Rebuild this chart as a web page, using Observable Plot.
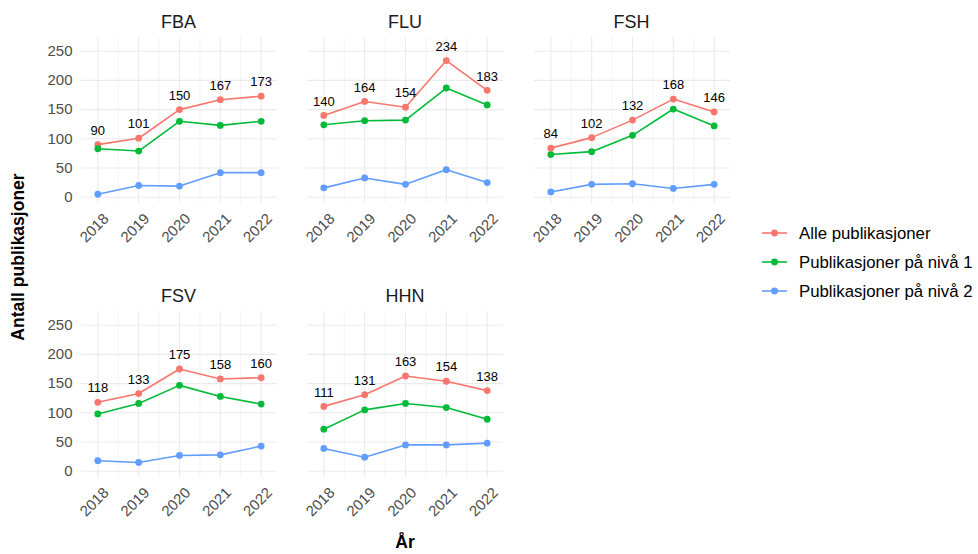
<!DOCTYPE html>
<html>
<head>
<meta charset="utf-8">
<script src="https://cdn.jsdelivr.net/npm/d3@7"></script>
<script src="https://cdn.jsdelivr.net/npm/@observablehq/plot@0.6"></script>
<style>
  html, body { margin: 0; padding: 0; background: #fff; }
  #root { position: relative; width: 978px; height: 554px; overflow: hidden; font-family: "Liberation Sans", Arial, Helvetica, sans-serif; }
  #root > div.panel { position: absolute; }
  #overlay { position: absolute; left: 0; top: 0; }
</style>
</head>
<body>
<div id="root"></div>
<script>
// ---- data ----
const units = ["FBA", "FLU", "FSH", "FSV", "HHN"];
const years = [2018, 2019, 2020, 2021, 2022];
const seriesNames = ["Alle publikasjoner", "Publikasjoner på nivå 1", "Publikasjoner på nivå 2"];
const seriesColors = ["#F8766D", "#00BA38", "#619CFF"];
// one row per unit (FBA, FLU, FSH, FSV, HHN), one value per year
const alle = [
  [90, 101, 150, 167, 173],
  [140, 164, 154, 234, 183],
  [84, 102, 132, 168, 146],
  [118, 133, 175, 158, 160],
  [111, 131, 163, 154, 138]
];
const niva1 = [
  [83, 79, 130, 123, 130],
  [124, 131, 132, 187, 158],
  [73, 78, 106, 151, 122],
  [98, 116, 147, 128, 115],
  [72, 105, 116, 109, 89]
];
const niva2 = [
  [5, 20, 19, 42, 42],
  [16, 33, 22, 47, 25],
  [9, 22, 23, 15, 22],
  [18, 15, 27, 28, 43],
  [39, 24, 45, 45, 48]
];
const yTicks = [0, 50, 100, 150, 200, 250];
const xLabel = "År";
const yLabel = "Antall publikasjoner";

// ---- layout ----
const root = document.getElementById("root");
const FONT = "'Liberation Sans', Arial, Helvetica, sans-serif";
const mL = 45, mR = 5, mT = 5, mB = 50;
const frameW = 196, frameH = 166;
const colX = [80.5, 307, 533.5];
const rowY = [37, 311];
const minorX = [2018.5, 2019.5, 2020.5, 2021.5];

const allSeries = [alle, niva1, niva2];

units.forEach((unit, ui) => {
  const col = ui % 3, row = Math.floor(ui / 3);
  const rows = [];
  allSeries.forEach((arr, si) => {
    years.forEach((yr, yi) => rows.push({year: yr, value: arr[ui][yi], series: seriesNames[si]}));
  });
  const labelRows = rows.filter(d => d.series === seriesNames[0]);
  const leftCol = col === 0;
  const marks = [
    Plot.gridX(minorX, {stroke: "#ebebeb", strokeOpacity: 1, strokeWidth: 0.6}),
    Plot.gridX(years, {stroke: "#ebebeb", strokeOpacity: 1, strokeWidth: 1.1}),
    Plot.gridY(yTicks, {stroke: "#ebebeb", strokeOpacity: 1, strokeWidth: 1.1}),
    Plot.line(rows, {x: "year", y: "value", z: "series", stroke: "series", strokeWidth: 1.6}),
    Plot.dot(rows, {x: "year", y: "value", fill: "series", r: 3.4}),
    Plot.text(labelRows, {x: "year", y: "value", text: d => String(d.value), dy: -14, fontSize: 13, fill: "#000"}),
    Plot.text(years, {x: d => d, text: d => String(d), frameAnchor: "bottom", rotate: -45, dy: 28, textAnchor: "middle", fontSize: 15, fill: "#4d4d4d"})
  ];
  if (leftCol) {
    marks.push(Plot.axisY(yTicks, {tickSize: 0, tickPadding: 9, fontSize: 15, fill: "#4d4d4d", label: null}));
  }
  const chart = Plot.plot({
    width: mL + frameW + mR,
    height: mT + frameH + mB,
    marginLeft: mL, marginRight: mR, marginTop: mT, marginBottom: mB,
    style: {fontFamily: FONT, background: "transparent", overflow: "visible"},
    x: {type: "linear", domain: [2017.6, 2022.4], axis: null},
    y: {domain: [-10.8, 273.5], axis: leftCol ? undefined : null, label: null},
    color: {domain: seriesNames, range: seriesColors},
    marks
  });
  const wrap = document.createElement("div");
  wrap.className = "panel";
  wrap.style.left = (colX[col] - mL) + "px";
  wrap.style.top = (rowY[row] - mT) + "px";
  wrap.appendChild(chart);
  root.appendChild(wrap);
});

// ---- overlay text: strip titles, axis titles, legend ----
const ns = "http://www.w3.org/2000/svg";
const svg = document.createElementNS(ns, "svg");
svg.setAttribute("id", "overlay");
svg.setAttribute("width", 978);
svg.setAttribute("height", 554);
svg.style.fontFamily = FONT;
svg.style.pointerEvents = "none";
root.appendChild(svg);
function addText(txt, x, y, opts = {}) {
  const t = document.createElementNS(ns, "text");
  t.setAttribute("x", x); t.setAttribute("y", y);
  t.setAttribute("font-size", opts.size || 15);
  t.setAttribute("fill", opts.fill || "#1a1a1a");
  t.setAttribute("text-anchor", opts.anchor || "middle");
  if (opts.weight) t.setAttribute("font-weight", opts.weight);
  if (opts.transform) t.setAttribute("transform", opts.transform);
  t.textContent = txt;
  svg.appendChild(t);
}
units.forEach((unit, ui) => {
  const col = ui % 3, row = Math.floor(ui / 3);
  addText(unit, colX[col] + frameW / 2, rowY[row] - 9, {size: 18});
});
addText(xLabel, (colX[0] + colX[2] + frameW) / 2, 548, {size: 17.5, weight: "bold", fill: "#000"});
addText(yLabel, 0, 0, {size: 17.5, weight: "bold", fill: "#000", transform: "translate(24,257) rotate(-90)"});

const legendY = [233, 262, 291];
seriesNames.forEach((name, i) => {
  const l = document.createElementNS(ns, "line");
  l.setAttribute("x1", 762); l.setAttribute("x2", 787);
  l.setAttribute("y1", legendY[i]); l.setAttribute("y2", legendY[i]);
  l.setAttribute("stroke", seriesColors[i]); l.setAttribute("stroke-width", 1.6);
  svg.appendChild(l);
  const c = document.createElementNS(ns, "circle");
  c.setAttribute("cx", 774.5); c.setAttribute("cy", legendY[i]); c.setAttribute("r", 3.4);
  c.setAttribute("fill", seriesColors[i]);
  svg.appendChild(c);
  addText(name, 799, legendY[i] + 6, {size: 16.8, anchor: "start", fill: "#000"});
});
</script>
</body>
</html>
